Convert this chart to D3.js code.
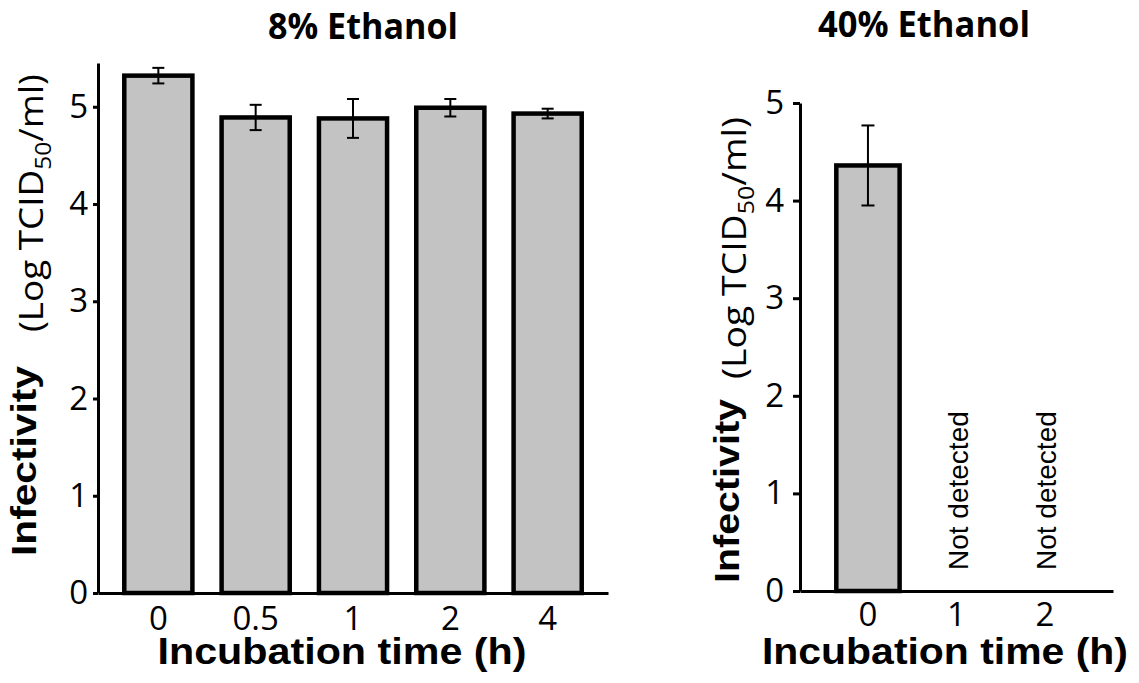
<!DOCTYPE html>
<html>
<head>
<meta charset="utf-8">
<script src="https://cdn.jsdelivr.net/npm/d3@7"></script>
<style>
body { margin: 0; background: #fff; }
</style>
</head>
<body>
<div id="chart"></div>
<script>
// 8% ethanol panel
var lowCats = ['0', '0.5', '1', '2', '4'];
var lowMeans = [5.32, 4.89, 4.88, 4.99, 4.93];
var lowErrs = [0.08, 0.13, 0.2, 0.09, 0.05];

// 40% ethanol panel (null = not detected)
var highCats = ['0', '1', '2'];
var highMeans = [4.36, null, null];
var highErrs = [0.41, null, null];

var yTicks = [0, 1, 2, 3, 4, 5];
var lowTitle = '8% Ethanol';
var highTitle = '40% Ethanol';
var xTitle = 'Incubation time (h)';
var yTitleBold = 'Infectivity';
var notDetected = 'Not detected';

const svg = d3.select('#chart')
    .append('svg')
    .attr('width', 1139)
    .attr('height', 683)
    .style('background', '#fff');

function drawPanel(p) {
    const xScale = d3.scaleBand()
        .domain(p.cats)
        .range([p.left, p.right])
        .paddingInner(p.padIn)
        .paddingOuter(p.padOut);

    const yScale = d3.scaleLinear()
        .domain([0, p.yMax])
        .range([p.bottom, p.top]);

    const rows = p.cats.map((c, i) => ({ cat: c, mean: p.means[i], err: p.errs[i] }));
    const found = rows.filter((d) => d.mean != null);
    const g = svg.append('g');

    g.selectAll('rect.bar')
        .data(found)
        .enter()
        .append('rect')
        .attr('class', 'bar')
        .attr('x', (d) => xScale(d.cat))
        .attr('y', (d) => yScale(d.mean))
        .attr('width', xScale.bandwidth())
        .attr('height', (d) => yScale(0) - yScale(d.mean))
        .attr('fill', '#c3c3c3')
        .attr('stroke', '#000')
        .attr('stroke-width', 4.5);

    // error bars
    const cx = (d) => xScale(d.cat) + xScale.bandwidth() / 2;
    const eb = g.selectAll('g.err')
        .data(found)
        .enter()
        .append('g')
        .attr('class', 'err')
        .attr('stroke', '#000')
        .attr('stroke-width', 2);
    eb.append('line')
        .attr('x1', cx).attr('x2', cx)
        .attr('y1', (d) => yScale(d.mean + d.err))
        .attr('y2', (d) => yScale(d.mean - d.err));
    eb.append('line')
        .attr('x1', (d) => cx(d) - p.cap).attr('x2', (d) => cx(d) + p.cap)
        .attr('y1', (d) => yScale(d.mean + d.err))
        .attr('y2', (d) => yScale(d.mean + d.err));
    eb.append('line')
        .attr('x1', (d) => cx(d) - p.cap).attr('x2', (d) => cx(d) + p.cap)
        .attr('y1', (d) => yScale(d.mean - d.err))
        .attr('y2', (d) => yScale(d.mean - d.err));

    // not detected labels
    g.selectAll('text.nd')
        .data(rows.filter((d) => d.mean == null))
        .enter()
        .append('text')
        .attr('class', 'nd')
        .attr('transform', (d) => `translate(${cx(d) + p.ndShift},${p.ndY}) rotate(-90)`)
        .attr('font-family', 'Liberation Sans, Arial, sans-serif')
        .attr('font-size', 28)
        .text(notDetected);

    // axes
    const yAxis = g.append('g')
        .attr('transform', `translate(${p.left},0)`)
        .call(d3.axisLeft(yScale).tickValues(yTicks).tickFormat(d3.format('d'))
            .tickSize(p.tickLen).tickSizeOuter(0).tickPadding(p.yPad));
    const xAxis = g.append('g')
        .attr('transform', `translate(0,${p.bottom})`)
        .call(d3.axisBottom(xScale).tickSize(0).tickSizeOuter(0).tickPadding(p.xPad));

    [yAxis, xAxis].forEach((ax) => {
        ax.select('.domain').attr('stroke', '#000').attr('stroke-width', 3);
        ax.selectAll('.tick line').attr('stroke', '#000').attr('stroke-width', 3);
        ax.selectAll('.tick text')
            .attr('fill', '#000')
            .attr('font-family', 'Open Sans, sans-serif')
            .attr('font-size', 33);
    });

    // titles
    svg.append('text')
        .attr('x', p.titleX)
        .attr('y', p.titleY)
        .attr('text-anchor', 'middle')
        .attr('font-family', 'Open Sans, sans-serif')
        .attr('font-weight', 'bold')
        .attr('font-size', 35)
        .attr('textLength', p.titleLen)
        .attr('lengthAdjust', 'spacingAndGlyphs')
        .text(p.title);

    svg.append('text')
        .attr('x', p.xTitleX)
        .attr('y', 664)
        .attr('text-anchor', 'middle')
        .attr('font-family', 'Liberation Sans, Arial, sans-serif')
        .attr('font-weight', 'bold')
        .attr('font-size', 36)
        .attr('textLength', p.xTitleLen)
        .attr('lengthAdjust', 'spacingAndGlyphs')
        .text(xTitle);

    svg.append('text')
        .attr('transform', `translate(${p.infX},${p.infY}) rotate(-90)`)
        .attr('text-anchor', 'middle')
        .attr('font-family', 'Liberation Sans, Arial, sans-serif')
        .attr('font-weight', 'bold')
        .attr('font-size', 35)
        .attr('textLength', p.infLen)
        .attr('lengthAdjust', 'spacingAndGlyphs')
        .text(yTitleBold);

    const unit = svg.append('text')
        .attr('transform', `translate(${p.logX},${p.logY}) rotate(-90)`)
        .attr('text-anchor', 'middle')
        .attr('font-family', 'Open Sans, sans-serif')
        .attr('font-size', 33)
        .attr('textLength', p.logLen)
        .attr('lengthAdjust', 'spacingAndGlyphs');
    unit.append('tspan').text('(Log TCID');
    unit.append('tspan').attr('font-size', 22).attr('dy', 8).text('50');
    unit.append('tspan').attr('dy', -8).text('/ml)');
}

drawPanel({
    cats: lowCats, means: lowMeans, errs: lowErrs,
    left: 98, right: 608, top: 63, bottom: 593, yMax: 5.45,
    padIn: 0.3, padOut: 0.27, cap: 6,
    tickLen: 5, yPad: 5, xPad: 14,
    title: lowTitle, titleX: 363, titleY: 39, titleLen: 190,
    xTitleX: 342, xTitleLen: 369,
    infX: 36, infY: 461, infLen: 190,
    logX: 43, logY: 203, logLen: 258,
    ndShift: 11, ndY: 570
});

drawPanel({
    cats: highCats, means: highMeans, errs: highErrs,
    left: 800, right: 1113, top: 103, bottom: 591, yMax: 5,
    padIn: 0.285, padOut: 0.41, cap: 6.5,
    tickLen: 7, yPad: 9, xPad: 12,
    title: highTitle, titleX: 924, titleY: 37, titleLen: 212,
    xTitleX: 945, xTitleLen: 366,
    infX: 739, infY: 491, infLen: 184,
    logX: 746, logY: 248, logLen: 262,
    ndShift: 11, ndY: 570
});
</script>
</body>
</html>
